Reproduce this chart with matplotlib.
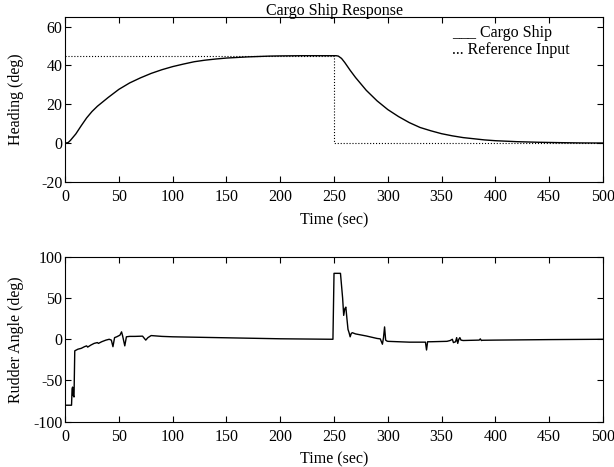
import numpy as np
import matplotlib.pyplot as plt

plt.rcParams['font.family'] = ['Liberation Serif', 'DejaVu Serif']
plt.rcParams['axes.unicode_minus'] = False

# heading response of the ship (deg)
time_h = [0, 3, 5, 10, 15, 20, 25, 30, 40, 50, 60, 70, 80, 90, 100, 110, 120, 130,
          140, 150, 160, 170, 180, 190, 200, 220, 250, 252, 254, 257, 260, 265,
          270, 275, 280, 290, 300, 310, 320, 330, 340, 350, 360, 370, 380, 390,
          400, 420, 440, 460, 480, 500]
heading = [0, 0.4, 1.5, 4.8, 9, 13, 16.3, 19, 23.5, 27.7, 31, 33.6, 35.9, 37.8,
           39.4, 40.7, 41.9, 42.7, 43.3, 43.8, 44.1, 44.4, 44.6, 44.8, 44.9, 45,
           45, 45, 44.8, 43.6, 41.5, 37.5, 33.8, 30.5, 27.2, 21.8, 17.3, 13.7,
           10.6, 8.1, 6.4, 4.9, 3.8, 2.9, 2.3, 1.7, 1.3, 0.8, 0.5, 0.3, 0.15, 0.1]

# reference input (deg)
time_ref = [0, 250, 250, 500]
ref_input = [45, 45, 0, 0]

# rudder angle (deg)
time_r = [0, 6, 6.5, 7, 7.5, 8.3, 9, 12, 15, 18, 20, 21, 24, 27, 30, 31, 34, 38,
          41, 43, 44.5, 46, 48, 51, 52.5, 53.5, 55.5, 57, 60, 65, 72, 75, 77, 80,
          90, 100, 150, 200, 249, 250, 256, 258, 259, 260, 261, 262, 263, 264,
          265, 266, 267, 270, 280, 290, 293, 295, 296, 297, 298, 299, 300, 310,
          320, 335, 336, 337, 340, 355, 358, 360, 361, 363, 364, 365, 366, 367,
          368, 370, 385, 386, 387, 388, 400, 450, 500]
rudder = [-80, -80, -60, -58, -68, -70, -14, -12, -11, -9, -8, -9.5, -7, -5, -4,
          -5, -3, -1, 0, -1, -9, 2, 3, 5, 9, 4, -8, 3, 3.5, 3.5, 3.8, -1, 2, 4.5,
          3.5, 3, 1.8, 0.6, 0, 80, 80, 50, 29, 37, 39, 25, 12, 8, 3, 7, 8, 6.5,
          4, 1, 0.5, -6, 2, 15, -1, -2, -2.5, -3, -3.5, -3.5, -13, -3, -3, -2.5,
          -1.5, 0, -4, -3, 2, -5, 0, 2, -1, -1.5, -1, 0.5, -1.5, -1.2, -1, -0.4,
          0]

fig = plt.figure(figsize=(6.14, 4.67), dpi=100)

ax1 = fig.add_axes([0.106, 0.610, 0.876, 0.354])
ax1.plot(time_h, heading, color='black', lw=1.0)
ax1.plot(time_ref, ref_input, color='black', lw=0.8, ls=':')
ax1.set_xlim(0, 500)
ax1.set_ylim(-20, 65)
ax1.set_yticks([-20, 0, 20, 40, 60])
ax1.set_xticks(np.arange(0, 501, 50))
ax1.set_title('Cargo Ship Response', fontsize=11.5, pad=1)
ax1.set_xlabel('Time (sec)', fontsize=11.5)
ax1.set_ylabel('Heading (deg)', fontsize=11.5)
ax1.text(360, 56.5, '___ Cargo Ship', fontsize=11.5, va='center')
ax1.text(360, 48, '... Reference Input', fontsize=11.5, va='center')

ax2 = fig.add_axes([0.106, 0.097, 0.876, 0.353])
ax2.plot(time_r, rudder, color='black', lw=1.0)
ax2.set_xlim(0, 500)
ax2.set_ylim(-100, 100)
ax2.set_yticks([-100, -50, 0, 50, 100])
ax2.set_xticks(np.arange(0, 501, 50))
ax2.set_xlabel('Time (sec)', fontsize=11.5)
ax2.set_ylabel('Rudder Angle (deg)', fontsize=11.5)

for ax in (ax1, ax2):
    ax.tick_params(direction='in', top=True, right=True, labelsize=11.5,
                   length=4, width=0.8)
    ax.tick_params(axis='x', pad=5)
    ax.tick_params(axis='y', pad=2)
    for s in ax.spines.values():
        s.set_linewidth(0.8)
    ax.xaxis.labelpad = 5
    ax.yaxis.set_label_coords(-0.076, 0.5)

fig.savefig('out.png', dpi=100)
